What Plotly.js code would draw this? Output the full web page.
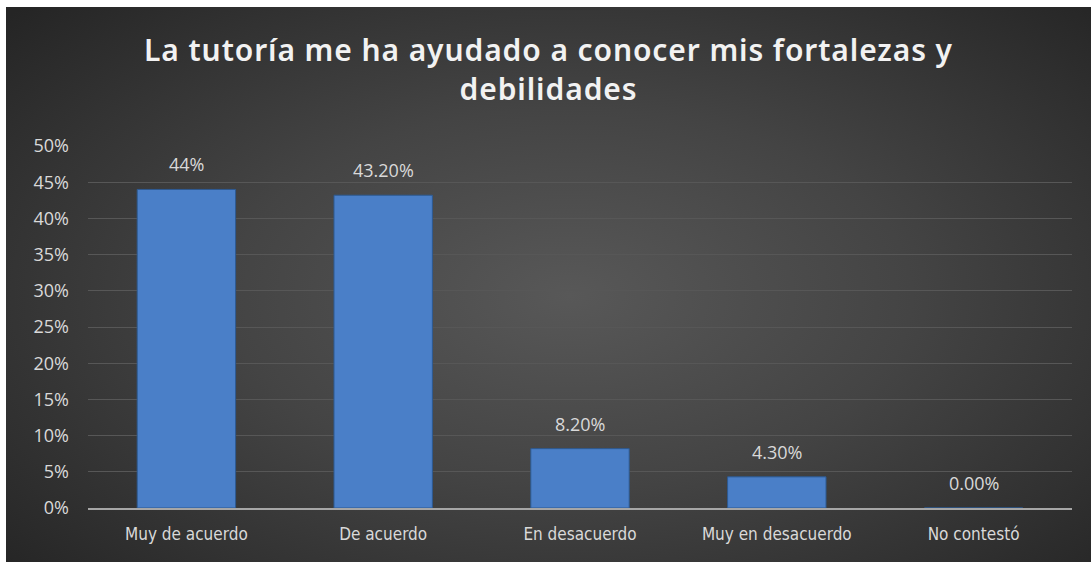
<!DOCTYPE html>
<html>
<head>
<meta charset="utf-8">
<script src="https://cdn.plot.ly/plotly-3.0.1.min.js"></script>
<style>
  html, body { margin: 0; padding: 0; background: #ffffff; }
  #chart {
    position: absolute; left: 6px; top: 7px; width: 1085px; height: 555px;
    background: radial-gradient(ellipse 70% 75% at 52% 52%, #585858 0%, #444444 45%, #252525 100%);
  }
  .gtitle { letter-spacing: 0.9px; }
</style>
</head>
<body>
<div id="chart"></div>
<script>
const categories = ["Muy de acuerdo", "De acuerdo", "En desacuerdo", "Muy en desacuerdo", "No contestó"];
const values = [0.44, 0.432, 0.082, 0.043, 0.0];
const valueLabels = ["44%", "43.20%", "8.20%", "4.30%", "0.00%"];
const yTickValues = [0, 0.05, 0.10, 0.15, 0.20, 0.25, 0.30, 0.35, 0.40, 0.45, 0.50];
const yTickLabels = ["0%", "5%", "10%", "15%", "20%", "25%", "30%", "35%", "40%", "45%", "50%"];
const titleText = "La tutoría me ha ayudado a conocer mis fortalezas y<br>debilidades";

const trace = {
  type: "bar",
  x: categories,
  y: values,
  marker: { color: "#4a7fc8", line: { color: "#2d5a92", width: 1 } },
  hoverinfo: "none"
};

const annotations = categories.map((c, i) => ({
  x: c, y: values[i], xref: "x", yref: "y",
  text: valueLabels[i], showarrow: false,
  yanchor: "bottom", yshift: 11,
  font: { family: "Open Sans, Noto Sans, sans-serif", size: 18, color: "#d9d9d9" }
}));

const layout = {
  width: 1085, height: 555,
  paper_bgcolor: "rgba(0,0,0,0)",
  plot_bgcolor: "rgba(0,0,0,0)",
  margin: { l: 82, r: 19, t: 139, b: 54 },
  bargap: 0.5,
  showlegend: false,
  title: {
    text: titleText,
    x: 0.5, xanchor: "center",
    y: 0.902, yanchor: "top",
    font: { family: "Noto Sans, sans-serif", size: 30, color: "#f2f2f2", weight: 600 }
  },
  xaxis: {
    type: "category",
    showgrid: false,
    showline: true, linecolor: "#a6a6a6", linewidth: 2,
    ticks: "", ticklabelstandoff: 10,
    tickfont: { family: "DejaVu Sans Condensed, Liberation Sans Narrow, sans-serif", size: 17, color: "#d9d9d9" },
    fixedrange: true
  },
  yaxis: {
    range: [0, 0.5],
    tickvals: yTickValues, ticktext: yTickLabels,
    showgrid: true, gridcolor: "#575757", gridwidth: 1,
    zeroline: false, showline: false,
    ticks: "", ticklabelstandoff: 18,
    tickfont: { family: "Open Sans, Noto Sans, sans-serif", size: 18, color: "#d9d9d9" },
    fixedrange: true
  },
  annotations: annotations
};

Plotly.newPlot("chart", [trace], layout, { displayModeBar: false, staticPlot: true });
</script>
</body>
</html>
